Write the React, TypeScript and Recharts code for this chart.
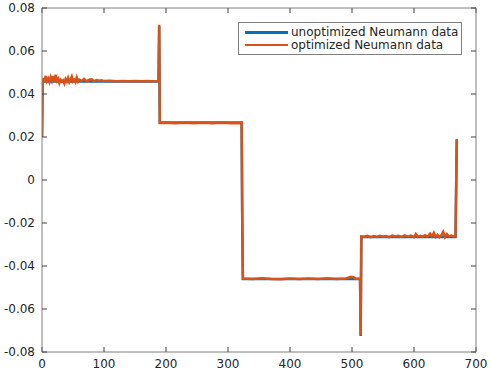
import React from 'react';
import { LineChart, Line, XAxis, YAxis, Legend } from 'recharts';

const xTicks = [0, 100, 200, 300, 400, 500, 600, 700];
const yTicks = [-0.08, -0.06, -0.04, -0.02, 0, 0.02, 0.04, 0.06, 0.08];

// unoptimized Neumann data (step profile, no noise)
const unoptX = [0, 1, 188, 189, 190, 322, 323, 324, 513, 514, 515, 667, 669];
const unoptY = [0.02, 0.0458, 0.0458, 0.0715, 0.0267, 0.0267, -0.0195, -0.046, -0.046, -0.0725, -0.0265, -0.0265, 0.019];

// optimized Neumann data (same steps, with jitter)
const optX = [
  0, 1, 2, 4, 6, 8, 10, 12, 14, 16, 18, 20, 22, 24,
  26, 28, 30, 32, 34, 36, 38, 40, 42, 44, 46, 48, 50,
  52, 54, 56, 58, 60, 64, 68, 72, 76, 80, 84, 88, 92,
  96, 100, 110, 120, 130, 140, 150, 160, 170, 180, 188, 189, 190,
  200, 215, 230, 245, 260, 275, 290, 305, 322, 323, 324,
  340, 355, 370, 385, 400, 415, 430, 445, 460, 475, 490, 498, 502, 506, 513, 514, 515,
  520, 525, 530, 535, 540, 545, 550, 555, 560, 565, 570, 575,
  580, 585, 590, 595, 600, 603, 606, 610, 614, 618, 622, 626, 629, 632, 635, 638,
  641, 644, 647, 650, 653, 656, 660, 664, 667, 669,
];
const optY = [
  0.02, 0.046, 0.0468, 0.0462, 0.0484, 0.046, 0.0472, 0.0456, 0.0478, 0.0461, 0.0483, 0.0457, 0.049, 0.0462,
  0.0471, 0.0451, 0.0466, 0.0458, 0.0463, 0.0449, 0.0469, 0.0458, 0.0474, 0.0455, 0.0467, 0.0481, 0.0459,
  0.0466, 0.0456, 0.0476, 0.0458, 0.0467, 0.0461, 0.047, 0.0459, 0.0466, 0.0468, 0.046, 0.0465, 0.0462,
  0.0464, 0.046, 0.0462, 0.0459, 0.0461, 0.0459, 0.046, 0.0459, 0.046, 0.0459, 0.0459, 0.0722, 0.0265,
  0.0266, 0.0264, 0.0266, 0.0264, 0.0266, 0.0264, 0.0266, 0.0264, 0.0265, -0.0195, -0.0458,
  -0.0461, -0.0457, -0.046, -0.0462, -0.0458, -0.0461, -0.0458, -0.046, -0.0457, -0.0461, -0.0458, -0.045, -0.0452, -0.0459, -0.0459, -0.0722, -0.0262,
  -0.0264, -0.026, -0.0266, -0.0261, -0.0265, -0.026, -0.0264, -0.0261, -0.0266, -0.0259, -0.0263, -0.026,
  -0.0265, -0.0258, -0.0264, -0.0259, -0.0266, -0.0252, -0.0265, -0.026, -0.0264, -0.0257, -0.0263, -0.0249, -0.0262, -0.0246, -0.0265, -0.0255,
  -0.0267, -0.0258, -0.0241, -0.0266, -0.0252, -0.0262, -0.0258, -0.0263, -0.0262, 0.019,
];

const unoptData = unoptX.map((x, i) => ({ x, y: unoptY[i] }));
const optData = optX.map((x, i) => ({ x, y: optY[i] }));

const BLUE = '#0072BD';
const ORANGE = '#D95319';
const AXIS = '#7f7f7f';
const TICK = '#404040';
const FONT = 'DejaVu Sans, sans-serif';

const LegendBox = () => (
  <div
    style={{
      width: 222,
      height: 31,
      border: `1px solid ${AXIS}`,
      background: '#fff',
      fontFamily: FONT,
      fontSize: 12,
      color: '#262626',
      boxSizing: 'content-box',
    }}
  >
    {[
      { name: 'unoptimized Neumann data', color: BLUE },
      { name: 'optimized Neumann data', color: ORANGE },
    ].map((item, i) => (
      <div
        key={i}
        style={{ display: 'flex', alignItems: 'center', height: 12.5, marginTop: i === 0 ? 3 : 0, lineHeight: '12px' }}
      >
        <span style={{ display: 'inline-block', width: 43, height: 2.5, background: item.color, marginLeft: 6, marginRight: 3 }} />
        <span>{item.name}</span>
      </div>
    ))}
  </div>
);

const fmtY = (v: number) => (Math.abs(v) < 1e-9 ? '0' : v.toFixed(2));
const NoLabel = () => <g />;

export default function App() {
  return (
    <div style={{ position: 'absolute', left: 0, top: 0, width: 491, height: 373, background: '#fff' }}>
      <LineChart width={491} height={373} margin={{ top: 7, right: 14, bottom: 0, left: 0 }}>
        <XAxis
          xAxisId="bottom"
          type="number"
          dataKey="x"
          domain={[0, 700]}
          ticks={xTicks}
          allowDataOverflow
          height={21}
          stroke={AXIS}
          tickLine={{ stroke: TICK }}
          tickSize={-5}
          tickMargin={12}
          tick={{ fill: '#262626', fontSize: 12, fontFamily: FONT }}
        />
        <XAxis
          xAxisId="top"
          orientation="top"
          type="number"
          dataKey="x"
          domain={[0, 700]}
          ticks={xTicks}
          allowDataOverflow
          height={1}
          stroke={AXIS}
          tickLine={{ stroke: TICK }}
          tickSize={-5}
          tick={<NoLabel />}
        />
        <YAxis
          yAxisId="left"
          type="number"
          domain={[-0.08, 0.08]}
          ticks={yTicks}
          allowDataOverflow
          width={42}
          stroke={AXIS}
          tickLine={{ stroke: TICK }}
          tickSize={-5}
          tickMargin={12}
          tickFormatter={fmtY}
          tick={{ fill: '#262626', fontSize: 12, fontFamily: FONT }}
        />
        <YAxis
          yAxisId="right"
          orientation="right"
          type="number"
          domain={[-0.08, 0.08]}
          ticks={yTicks}
          allowDataOverflow
          width={1}
          stroke={AXIS}
          tickLine={{ stroke: TICK }}
          tickSize={-5}
          tick={<NoLabel />}
        />
        <Legend
          layout="vertical"
          align="center"
          verticalAlign="middle"
          wrapperStyle={{ top: 22, left: 238, width: 224, height: 33 }}
          content={() => <LegendBox />}
        />
        {/* invisible series so the top and right box axes get drawn */}
        <Line
          xAxisId="top"
          yAxisId="right"
          data={unoptData}
          dataKey="y"
          stroke="none"
          dot={false}
          legendType="none"
          isAnimationActive={false}
        />
        <Line
          xAxisId="bottom"
          yAxisId="left"
          data={unoptData}
          dataKey="y"
          name="unoptimized Neumann data"
          stroke={BLUE}
          strokeWidth={2.5}
          dot={false}
          isAnimationActive={false}
        />
        <Line
          xAxisId="bottom"
          yAxisId="left"
          data={optData}
          dataKey="y"
          name="optimized Neumann data"
          stroke={ORANGE}
          strokeWidth={2.5}
          dot={false}
          isAnimationActive={false}
        />
      </LineChart>
    </div>
  );
}
